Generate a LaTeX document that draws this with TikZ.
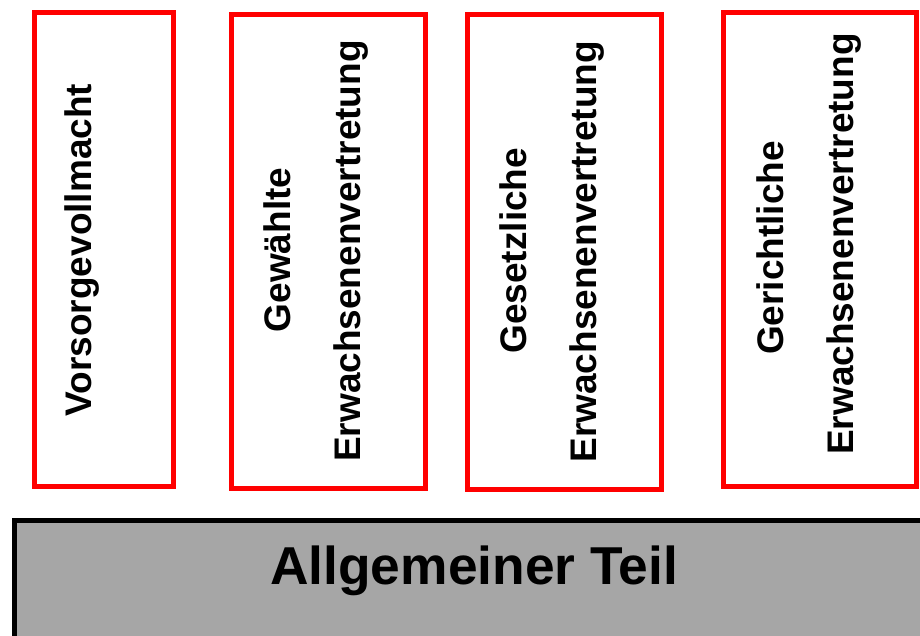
\documentclass[tikz,border=0pt]{standalone}
\usepackage{fontspec}
\setmainfont{Liberation Sans}
\usepackage{tikz}

\begin{document}
\begin{tikzpicture}[x=0.75pt,y=0.75pt,yscale=-1,xscale=1,
  redbox/.style={draw={rgb, 255:red, 255; green, 0; blue, 0 },line width=3.75pt,inner sep=0pt,minimum height=355.5pt},
  graybox/.style={draw=black,fill={rgb, 255:red, 166; green, 166; blue, 166 },line width=3.75pt,inner sep=0pt},
  sidetext/.style={rotate=90,anchor=base,inner sep=0.75pt,font=\bfseries\fontsize{27.75pt}{33pt}\selectfont},
  bigtext/.style={anchor=base,inner sep=0.75pt,font=\bfseries\fontsize{40pt}{48pt}\selectfont}]
\clip (0,0) rectangle (920,635);
% the four pillars
\node [redbox,minimum width=103.9pt] (vollmacht) at (103.75,249.5) {};
\node [redbox,minimum width=145.5pt] (gewaehlt) at (328.5,251.5) {};
\node [redbox,minimum width=145.5pt,minimum height=356.6pt] (gesetz) at (564.5,252.25) {};
\node [redbox,minimum width=144.75pt] (gericht) at (820,249.5) {};
% base
\node [graybox,minimum width=689.6pt,minimum height=120pt] (teil) at (474.25,600) {};
% labels
\node [sidetext] (vollmachttxt) at (91.5,250) {Vorsorgevollmacht};
\node [sidetext] (gewaehlttxt) at (290,250) {Gewählte};
\node [sidetext] (gewaehlterw) at (360,251) {Erwachsenenvertretung};
\node [sidetext] (gesetztxt) at (526,250.7) {Gesetzliche};
\node [sidetext] (gesetzerw) at (596,251.7) {Erwachsenenvertretung};
\node [sidetext] (gerichttxt) at (783,248) {Gerichtliche};
\node [sidetext] (gerichterw) at (853,244) {Erwachsenenvertretung};
\node [bigtext] (teiltxt) at (474.25,584) {Allgemeiner Teil};
\end{tikzpicture}
\end{document}
